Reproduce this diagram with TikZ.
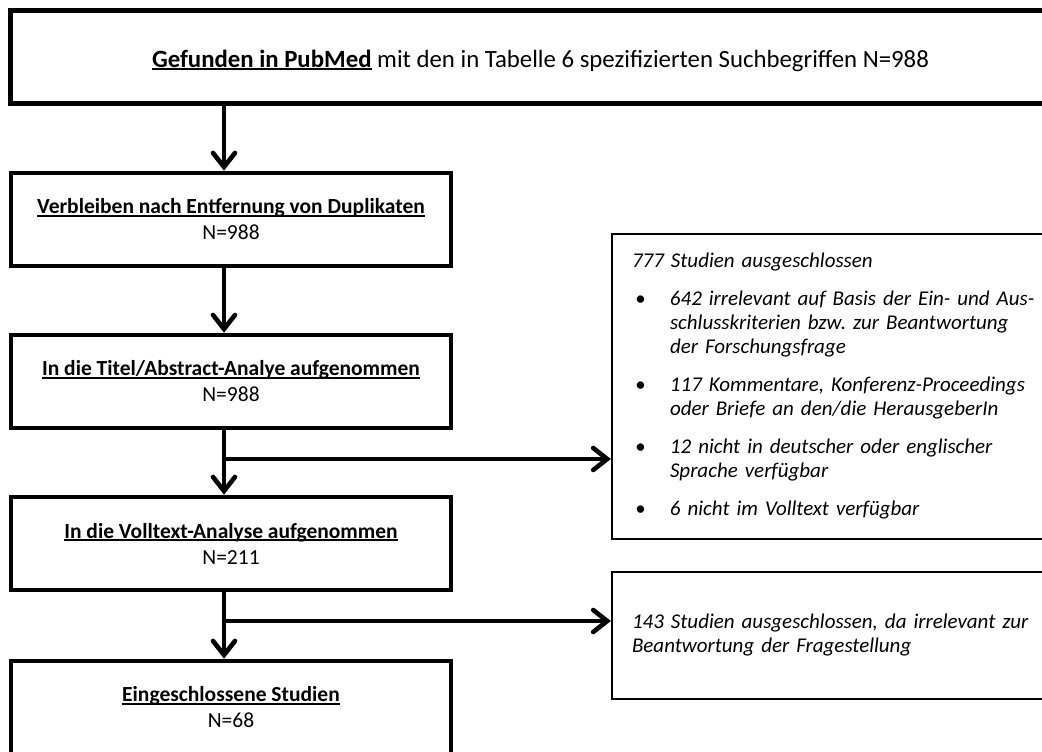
\documentclass[tikz,border=0pt]{standalone}
\usepackage{fontspec}
\setmainfont{Carlito}
\usetikzlibrary{arrows.meta,positioning,calc}
\newcommand{\unterstr}[1]{\setbox0\hbox{#1}\rlap{\rule[-2.6pt]{\wd0}{1.7pt}}\box0\relax}
\frenchspacing

\begin{document}
\begin{tikzpicture}[x=1pt,y=-1pt,
  box/.style={draw,line width=4.6pt,minimum width=440pt,minimum height=93pt,
    align=center,inner sep=0pt,font=\fontsize{21.5}{26}\selectfont},
  exclbox/.style={draw,line width=2.2pt,minimum width=463pt,inner xsep=20pt,
    text width=423pt,align=left,font=\fontsize{21}{24}\selectfont\itshape},
  arr/.style={line width=4.6pt,-{Straight Barb[length=14pt,width=22pt,line cap=round]}}]
  \useasboundingbox (0,0) rectangle (1042,752);
  \clip (0,0) rectangle (1042,752);

  % main column
  \node[box,line width=5pt,minimum width=1060pt,minimum height=92.5pt,
    font=\fontsize{24.8}{28}\selectfont] (gefunden) at (540.5,56.75)
    {\rule{0pt}{25pt}\unterstr{\textbf{Gefunden in PubMed}} mit den in Tabelle 6 spezifizierten Suchbegriffen N=988};
  \node[box] (duplikate) at (231,219.5) {\unterstr{\textbf{Verbleiben nach Entfernung von Duplikaten}}\\N=988};
  \node[box] (titelabs) at (231,381.5) {\unterstr{\textbf{In die Titel/Abstract-Analye aufgenommen}}\\N=988};
  \node[box] (volltext) at (231,543.5) {\unterstr{\textbf{In die Volltext-Analyse aufgenommen}}\\N=211};
  \node[box] (eingeschl) at (231,707.5) {\unterstr{\textbf{Eingeschlossene Studien}}\\N=68};

  % exclusions
  \node[exclbox,minimum height=305pt] (ausschluss1) at (843.5,386.5) {%
    \begin{tabular}{@{}p{38pt}@{}l@{}}
      \multicolumn{2}{@{}l@{}}{777 Studien ausgeschlossen}\\[14pt]
      \hspace{3pt}\textbullet & 642 irrelevant auf Basis der Ein- und Aus-\\
        & schlusskriterien bzw. zur Beantwortung\\
        & der Forschungsfrage\\[14pt]
      \hspace{3pt}\textbullet & 117 Kommentare, Konferenz-Proceedings\\
        & oder Briefe an den/die HerausgeberIn\\[14pt]
      \hspace{3pt}\textbullet & 12 nicht in deutscher oder englischer\\
        & Sprache verfügbar\\[14pt]
      \hspace{3pt}\textbullet & 6 nicht im Volltext verfügbar
    \end{tabular}};
  \node[exclbox,minimum height=127pt] (ausschluss2) at (843.5,635.5)
    {143 Studien ausgeschlossen, da irrelevant zur\\Beantwortung der Fragestellung};

  % connectors
  \coordinate (spine) at (224,0);
  \coordinate (ast1) at (224,459);
  \coordinate (ast2) at (224,621);
  \draw[arr] (spine |- gefunden.south) -- (spine |- duplikate.north);
  \draw[arr] (spine |- duplikate.south) -- (spine |- titelabs.north);
  \draw[arr] (spine |- titelabs.south) -- (spine |- volltext.north);
  \draw[arr] (spine |- volltext.south) -- (spine |- eingeschl.north);
  \draw[arr] (ast1) -- (ast1 -| ausschluss1.west);
  \draw[arr] (ast2) -- (ast2 -| ausschluss2.west);
\end{tikzpicture}
\end{document}
